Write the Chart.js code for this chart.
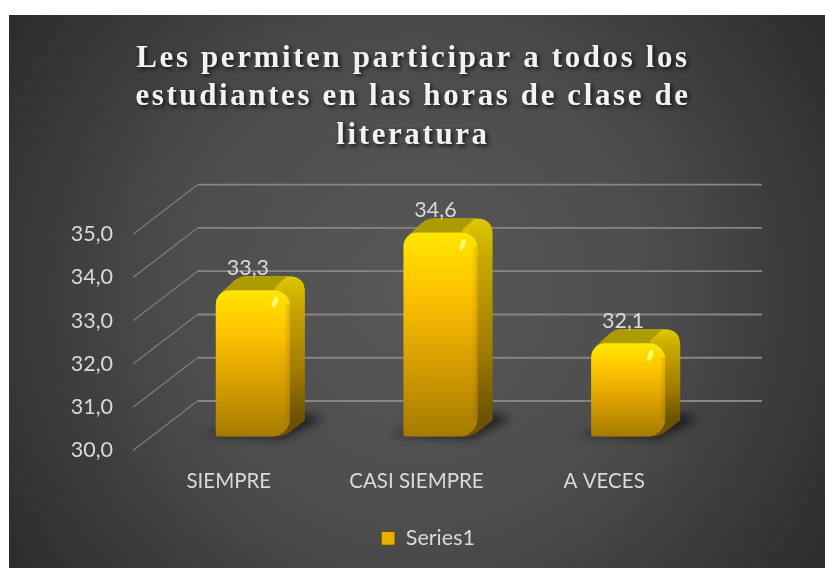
<!DOCTYPE html>
<html><head><meta charset="utf-8">
<style>html,body{margin:0;padding:0;background:#fff}canvas{position:absolute;left:9px;top:15px}</style>
<script src="https://cdn.jsdelivr.net/npm/chart.js@4"></script>
</head><body>
<canvas id="c" width="816" height="553"></canvas>
<script>
const titleLines = ['Les permiten participar a todos los','estudiantes en las horas de clase de','literatura'];
const categories = ['SIEMPRE','CASI SIEMPRE','A VECES'];
const seriesName = 'Series1';
const values = [33.3,34.6,32.1];
const comma = v => v.toFixed(1).replace('.',',');
const FONT = 'Lato';

function barFill(c){
  const ch=c.chart, s=ch.scales.y2;
  if(!s || c.dataIndex===undefined) return '#e6a800';
  const t=s.getPixelForValue(values[c.dataIndex]), b=s.getPixelForValue(30);
  const g=ch.ctx.createLinearGradient(0,t,0,b);
  g.addColorStop(0,'#ffe600');g.addColorStop(.28,'#ffc400');g.addColorStop(.6,'#dca200');g.addColorStop(1,'#a47a00');
  return g;
}

const backdrop={id:'backdrop',beforeDraw(ch){
  const {ctx,width,height}=ch;
  const g=ctx.createRadialGradient(width*.5,height*.5,20,width*.5,height*.5,520);
  g.addColorStop(0,'#575757');g.addColorStop(.45,'#4c4c4c');g.addColorStop(1,'#282828');
  ctx.save();ctx.fillStyle=g;ctx.fillRect(0,0,width,height);ctx.restore();
}};

const wall={id:'wall',beforeDatasetsDraw(ch){
  const {ctx}=ch, y=ch.scales.y;
  const x0=124, dx=64.5, dy=49.5, xEnd=753;
  ctx.save();
  y.ticks.forEach(t=>{
    const p=y.getPixelForValue(t.value);
    ctx.strokeStyle='#7c7c7c';ctx.lineWidth=1.3;
    ctx.beginPath();ctx.moveTo(x0,p);ctx.lineTo(x0+dx,p-dy);ctx.stroke();
    ctx.strokeStyle='#868686';ctx.lineWidth=1.8;
    ctx.beginPath();ctx.moveTo(x0+dx,p-dy);ctx.lineTo(xEnd,p-dy);ctx.stroke();
  });
  ctx.restore();
  const meta=ch.getDatasetMeta(0);
  meta.data.forEach(el=>{
    const w=el.width, xL=el.x-w/2, xR=el.x+w/2, t=el.y, b=el.base;
    ctx.save();
    ctx.filter='blur(5px)';ctx.fillStyle='rgba(0,0,0,.6)';
    ctx.beginPath();ctx.moveTo(xL-14,b-2);ctx.lineTo(xR-6,b+2);ctx.lineTo(xR+34,b-18);ctx.lineTo(xR+10,b-24);ctx.closePath();ctx.fill();
    ctx.restore();
    ctx.save();
    const g=ctx.createLinearGradient(0,t-14,0,b-16);
    g.addColorStop(0,'#dcc800');g.addColorStop(.2,'#c9a800');g.addColorStop(.65,'#a17c00');g.addColorStop(1,'#6a5200');
    ctx.fillStyle=g;
    ctx.beginPath();
    ctx.moveTo(xL+6,t+2);ctx.lineTo(xL+18,t-9);ctx.quadraticCurveTo(xL+24,t-14,xL+30,t-14);ctx.lineTo(xR-1,t-14);
    ctx.quadraticCurveTo(xR+15,t-14,xR+15,t+2);
    ctx.lineTo(xR+15,b-16);ctx.lineTo(xR+2,b-6);ctx.quadraticCurveTo(xR-4,b,xR-14,b);ctx.lineTo(xL+6,b);ctx.closePath();ctx.fill();
    ctx.fillStyle='#ab9a00';
    ctx.beginPath();
    ctx.moveTo(xL+4,t+4);ctx.lineTo(xL+18,t-9);ctx.quadraticCurveTo(xL+24,t-14,xL+30,t-14);ctx.lineTo(xR-3,t-14);ctx.lineTo(xR-16,t-2);ctx.lineTo(xR-12,t+3);ctx.closePath();ctx.fill();
    ctx.restore();
  });
}};

const overlay={id:'overlay',afterDatasetsDraw(ch){
  const {ctx}=ch, meta=ch.getDatasetMeta(0);
  ctx.save();
  meta.data.forEach((el,i)=>{
    const xR=el.x+el.width/2, t=el.y;
    const g=ctx.createLinearGradient(xR-6,0,xR+1,0);
    g.addColorStop(0,'rgba(90,60,0,0)');g.addColorStop(1,'rgba(90,60,0,.22)');
    ctx.fillStyle=g;ctx.fillRect(xR-6,t+14,6,el.base-t-30);
    ctx.fillStyle='rgba(255,255,120,.85)';
    ctx.beginPath();ctx.ellipse(xR-15,t+12,2.5,6,.35,0,Math.PI*2);ctx.fill();
    ctx.fillStyle='#d9d9d9';ctx.font='21.5px '+FONT;ctx.textAlign='center';ctx.textBaseline='middle';
    ctx.fillText(comma(values[i]),el.x-5,t-22);
  });
  ctx.restore();
}};

const titleStyle={id:'titleStyle',afterInit(ch){
  const box=ch.titleBlock; if(!box) return;
  const d=box.draw;
  box.draw=function(area){
    const ctx=this.ctx;
    ctx.save();ctx.translate(-15,0);ctx.letterSpacing='2.6px';ctx.shadowColor='rgba(0,0,0,.75)';ctx.shadowBlur=4;ctx.shadowOffsetX=2;ctx.shadowOffsetY=2;
    d.call(this,area);ctx.restore();
  };
}};

new Chart(document.getElementById('c'),{
  type:'bar',
  data:{labels:categories,datasets:[{
    label:seriesName,data:values,yAxisID:'y2',base:30,
    backgroundColor:barFill,borderWidth:0,borderSkipped:false,
    borderRadius:{topLeft:14,topRight:16,bottomLeft:2,bottomRight:18},
    barPercentage:.395,categoryPercentage:1,clip:false
  }]},
  plugins:[backdrop,wall,overlay,titleStyle],
  options:{
    responsive:false,animation:false,
    layout:{padding:{left:22,right:0,top:0,bottom:9}},
    scales:{
      x:{grid:{display:false},border:{display:false},
        ticks:{color:'#d9d9d9',font:{family:FONT,size:20.5},labelOffset:-24,padding:11,maxRotation:0,autoSkip:false},
        afterFit(s){s.height=67;}},
      y:{min:30,max:36.13,grid:{display:false},border:{display:false},
        afterBuildTicks(s){s.ticks=s.ticks.filter(t=>t.value<=35);},
        ticks:{stepSize:1,color:'#d9d9d9',font:{family:FONT,size:21.5},padding:38,callback:comma},
        afterFit(s){s.width=128;}},
      y2:{display:false,min:29.685,max:35.663},
      yR:{position:'right',min:0,max:1,grid:{display:false},border:{display:false},ticks:{display:false},afterFit(s){s.width=103;}}
    },
    plugins:{
      title:{display:true,text:titleLines,color:'#f2f2f2',font:{family:'"Liberation Serif"',size:31,weight:'bold',lineHeight:1.24},padding:{top:24.5,bottom:30.5}},
      legend:{position:'bottom',labels:{color:'#d9d9d9',font:{family:FONT,size:21.5},boxWidth:14,boxHeight:14,padding:10,
        generateLabels(){return [{text:seriesName,fillStyle:'#e8ae00',strokeStyle:'#5a4300',lineWidth:1,fontColor:'#d9d9d9',datasetIndex:0}];}}},
      tooltip:{enabled:false}
    }
  }
});
</script>
</body></html>
